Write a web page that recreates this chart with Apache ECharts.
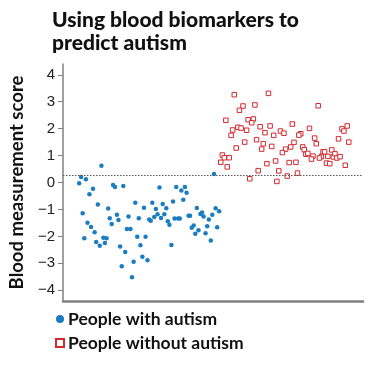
<!DOCTYPE html>
<html><head><meta charset="utf-8">
<script src="https://cdn.jsdelivr.net/npm/echarts@6/dist/echarts.min.js"></script>
<style>html,body{margin:0;padding:0;background:#fff}#c{width:370px;height:369px}</style>
</head><body><div id="c"></div>
<script>
// Horizontal position (jitter only, no meaning) and blood score for each person
const autismX = [39.7,18.7,16.7,23.7,31,27.3,51.7,53.7,62.3,36,20.3,25.3,29,32.7,22,34.3,38,41.7,45,43.3,46.7,48.3,50.3,55.7,57.3,59,60.7,64.3,66,69.7,67.7,71.3,73,74.7,76.7,78.3,80,82,83.7,85.3,87.3,89,90.7,92.3,94.3,96,97.7,99.7,101.3,103,104.7,106.7,108.3,110,112,113.7,115.3,117,119,120.7,122.3,124.3,126,127.7,129.7,131.3,133,135,136.7,138.3,140,142,143.7,145.3,147.3,149,150.7,152.7,154.3,156,157.7,159.3,161.3];
const autismY = [0.62,0.20,-0.03,0.12,-0.23,-0.44,-0.09,-0.17,-0.13,-0.82,-1.14,-1.49,-1.65,-1.85,-2.07,-2.21,-2.35,-2.05,-2.07,-2.25,-0.97,-1.33,-1.54,-1.20,-1.39,-2.38,-3.11,-2.58,-1.73,-1.73,-1.26,-3.52,-2.94,-0.75,-2.01,-1.33,-2.33,-2.76,-0.94,-2.01,-2.89,-1.37,-1.42,-0.75,-1.28,-0.98,-1.18,-0.19,-1.32,-0.80,-1.18,-0.96,-1.44,-1.57,-2.32,-0.71,-1.34,-0.17,-1.34,-1.34,-0.30,-0.64,-0.17,-0.38,-1.23,-1.23,-1.68,-1.60,-1.90,-0.95,-1.77,-1.17,-1.11,-1.26,-1.88,-1.62,-1.37,-2.15,-1.20,0.32,-0.96,-1.66,-1.07];
const noAutismX = [177,212.3,186,182.3,198.3,263.7,168.3,191.3,196.7,195,180.7,184,175.3,189.7,203.7,214,237,208.7,217.7,224.7,228.3,245.7,243.7,254.7,288.3,290.3,293.7,173.7,200,187.7,207,238.7,260,284.7,295.3,179,205.3,215.7,235.3,247.7,261.7,230,249.3,226.7,251,253,268.7,270.3,277.7,164.7,166.7,171.7,258.3,256.7,267,265,273.7,279.3,281,283,286.3,163,219.7,210.7,233.7,240.7,272.3,275.7,169.7,291.7,201.7,223,242.3,231.7,193,221];
const noAutismY = [3.26,3.31,2.84,2.68,2.88,2.85,2.31,2.33,2.36,2.22,2.05,2.02,1.95,1.94,2.07,2.10,2.17,1.85,1.75,1.91,1.83,1.81,1.76,2.01,1.99,1.91,2.10,1.75,1.59,1.50,1.44,1.49,1.65,1.62,1.50,1.28,1.24,1.34,1.32,1.32,1.44,1.24,1.22,1.11,1.05,1.08,1.14,1.14,1.21,1.02,0.92,0.92,0.98,0.87,0.96,0.91,0.97,0.95,1.07,0.91,0.96,0.75,0.80,0.70,0.74,0.75,0.72,0.70,0.58,0.64,0.44,0.43,0.35,0.24,0.14,0.04];
const threshold = 0.28;
const seriesNames = ['People with autism','People without autism'];
const yTicks = [-4,-3,-2,-1,0,1,2,3,4];

const pairs = (xs, ys) => xs.map((x, i) => [x, ys[i]]);
const chart = echarts.init(document.getElementById('c'), null, {renderer:'canvas'});
chart.setOption({
  animation:false,
  title:{text:'Using blood biomarkers to\npredict autism', left:47, top:4,
    textStyle:{fontFamily:'Lato', fontWeight:900, fontSize:21, lineHeight:23, color:'#111'}},
  grid:{left:53, right:7, top:64, bottom:68, containLabel:false},
  xAxis:{type:'value', min:0, max:310, show:true,
    axisLine:{show:true, onZero:false, lineStyle:{color:'#808080', width:2.5}},
    axisTick:{show:false}, axisLabel:{show:false}, splitLine:{show:false}},
  yAxis:{type:'value', min:-4.4, max:4.4,
    name:'Blood measurement score', nameLocation:'middle', nameGap:31,
    nameTextStyle:{fontFamily:'Lato', fontWeight:'bold', fontSize:18.5, color:'#111'},
    axisLine:{show:true, lineStyle:{color:'#808080', width:1.5}},
    axisTick:{show:true, length:5, lineStyle:{color:'#808080'}, customValues:yTicks},
    axisLabel:{customValues:yTicks, fontFamily:'Liberation Sans', fontSize:15, color:'#222', margin:8,
      formatter:v => (v < 0 ? '\u2212' + Math.abs(v) : String(v))},
    splitLine:{show:false}},
  legend:{orient:'vertical', left:50, top:305, itemGap:6, itemWidth:8, itemHeight:8,
    textStyle:{fontFamily:'Lato', fontWeight:'bold', fontSize:17.5, color:'#111', padding:[0,0,0,-1]},
    data:[{name:seriesNames[0], icon:'circle'},{name:seriesNames[1], icon:'rect'}]},
  series:[
    {name:seriesNames[0], type:'scatter', symbol:'circle', symbolSize:4.5,
      itemStyle:{color:'#1a7dc2', opacity:1},
      data:pairs(autismX, autismY),
      markLine:{silent:true, symbol:'none', label:{show:false},
        lineStyle:{color:'#555', type:[1.5,1.5], width:1},
        data:[{yAxis:threshold}]}},
    {name:seriesNames[1], type:'scatter', symbol:'rect', symbolSize:4.5,
      itemStyle:{color:'#fff', borderColor:'#d3292f', borderWidth:1, opacity:1},
      data:pairs(noAutismX, noAutismY)}
  ]
});
</script></body></html>
